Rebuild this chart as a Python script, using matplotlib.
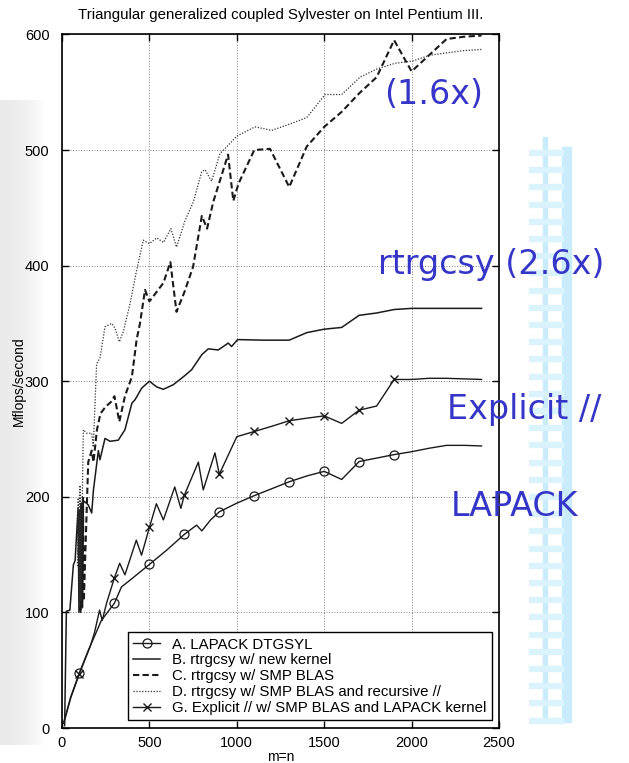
import numpy as np
import matplotlib
matplotlib.use("Agg")
import matplotlib.pyplot as plt
from matplotlib.patches import Rectangle

# --- data (m=n vs Mflops/second) ---
a_x = [10, 50, 100, 150, 185, 225, 300, 340, 390, 500, 600, 700, 770, 800, 850, 900,
       1000, 1100, 1200, 1300, 1400, 1500, 1600, 1700, 1800, 1900, 2000, 2100, 2200, 2300, 2400]
a_y = [5, 27, 48, 67, 79, 93, 108, 122, 128, 141.5, 154, 167.5, 175.5, 170.5, 180, 187,
       194.5, 201, 207, 213, 218, 222, 215, 230.5, 233.5, 236.5, 239, 242, 244.5, 244.5, 244]

b_x = [15, 25, 45, 65, 75, 92, 97, 102, 107, 112, 117, 122, 128, 150, 170, 180, 208, 217,
       246, 275, 322, 360, 400, 418, 456, 500, 542, 580, 637, 704, 742, 800, 837, 894, 951,
       970, 1005, 1150, 1300, 1400, 1500, 1600, 1700, 1800, 1900, 2000, 2100, 2200, 2300, 2400]
b_y = [2, 101, 102, 141, 145, 190, 100, 188, 100, 192, 104, 195, 196, 193, 186, 206, 240, 232,
       250.5, 248, 249, 258, 281, 284, 294, 300, 295, 293, 297, 305, 310, 323, 328, 327, 333,
       330, 336, 335.5, 335.5, 342, 345, 346.5, 357, 359, 362, 363, 363, 363, 363, 363]

c_x = [95, 100, 105, 110, 115, 120, 125, 150, 170, 180, 200, 220, 250, 280, 300, 328, 360,
       400, 427, 446, 475, 500, 540, 580, 620, 655, 700, 750, 800, 830, 865, 950, 980, 1010,
       1100, 1190, 1300, 1400, 1500, 1600, 1700, 1800, 1900, 2000, 2100, 2200, 2300, 2400]
c_y = [150, 190, 102, 195, 105, 200, 110, 230, 240, 230, 258, 272, 278, 282, 287, 265, 287,
       304, 336, 350, 379, 369, 377, 385, 403, 360, 377, 399, 443, 432, 455, 496, 456, 471,
       500, 501, 468, 503, 520, 533, 549, 563, 595, 568, 582, 596, 598, 599]

d_x = [88, 93, 98, 103, 108, 122, 141, 170, 179, 198, 217, 246, 284, 303, 328, 351, 389, 427,
       465, 500, 542, 580, 623, 655, 704, 751, 799, 818, 856, 904, 951, 1000, 1104, 1200, 1295,
       1400, 1505, 1600, 1705, 1800, 1905, 2005, 2105, 2200, 2300, 2400]
d_y = [140, 199, 105, 210, 110, 258, 255, 255, 243, 315, 320, 347, 350, 346, 334, 343, 367, 396,
       422, 419, 424, 420, 432, 416, 439, 455, 481, 483, 473, 497, 504, 512, 520, 517, 522,
       528, 548, 548, 563, 570, 575, 577, 582, 584, 586, 587]

g_x = [10, 50, 100, 160, 185, 215, 230, 255, 300, 330, 360, 400, 425, 455, 500, 540, 580, 645,
       680, 700, 780, 808, 875, 900, 960, 1000, 1100, 1200, 1300, 1400, 1500, 1600, 1700, 1800,
       1900, 2000, 2100, 2200, 2300, 2400]
g_y = [4, 26, 47, 70, 82, 102, 93, 108, 130, 142.5, 132.5, 151, 162.5, 149.5, 173.5, 194, 180,
       208.5, 190, 201.5, 230, 206, 238, 219.5, 239, 252, 256.5, 261, 265.8, 268, 270, 263.5,
       275, 278.5, 301.5, 301.5, 302.5, 302.5, 302, 301.5]

marker_at = [100, 300, 500, 700, 900, 1100, 1300, 1500, 1700, 1900]

labels = ["A. LAPACK DTGSYL",
          "B. rtrgcsy w/ new kernel",
          "C. rtrgcsy w/ SMP BLAS",
          "D. rtrgcsy w/ SMP BLAS and recursive //",
          "G. Explicit // w/ SMP BLAS and LAPACK kernel"]

notes = ["(1.6x)", "rtrgcsy (2.6x)", "Explicit //", "LAPACK"]

W, H = 629, 763
plt.rcParams["font.family"] = ["Liberation Sans", "DejaVu Sans"]

fig = plt.figure(figsize=(W / 100, H / 100), dpi=100)


def px(x, y):
    return x / W, 1 - y / H


# slide background: soft grey shadow on the left edge
bg = np.ones((H, W, 3))
shade = 0.92 + 0.08 * (np.arange(45) / 45.0) ** 2
bg[100:745, :45, :] = shade[None, :, None]
ax_bg = fig.add_axes([0, 0, 1, 1], zorder=0)
ax_bg.imshow(bg, aspect="auto", interpolation="bilinear")
ax_bg.axis("off")

# light blue ladder on the right
fig.patches.append(Rectangle(px(543, 722), 4 / W, 585 / H, transform=fig.transFigure,
                             color="#c8ecfb", zorder=1))
fig.patches.append(Rectangle(px(562, 722), 9 / W, 575 / H, transform=fig.transFigure,
                             color="#c8ecfb", zorder=1))
for yy in np.arange(150, 720, 17.2):
    fig.patches.append(Rectangle(px(529, yy + 5), 34 / W, 5 / H, transform=fig.transFigure,
                                 color="#dbf3fd", zorder=1))

ax = fig.add_axes([62 / W, 35 / H, 437 / W, 693.6 / H])
ax.set_zorder(2)
ax.set_facecolor("white")

ink = "#1a1a1a"


def marks(xs):
    return [i for i, v in enumerate(xs) if v in marker_at]


ax.plot(a_x, a_y, color=ink, lw=1.0, marker="o", ms=6.5, mfc="none", mew=0.9,
        markevery=marks(a_x), label=labels[0])
ax.plot(b_x, b_y, color=ink, lw=1.1, label=labels[1])
ax.plot(c_x, c_y, color=ink, lw=1.5, dashes=(3, 1.6), label=labels[2])
ax.plot(d_x, d_y, color="#333333", lw=0.9, dashes=(1, 1.3), label=labels[3])
ax.plot(g_x, g_y, color=ink, lw=1.0, marker="x", ms=6, mew=1.0,
        markevery=marks(g_x), label=labels[4])

ax.set_xlim(0, 2500)
ax.set_ylim(0, 600)
ax.set_xticks(range(0, 2501, 500))
ax.set_yticks(range(0, 601, 100))
ax.grid(True, color="#555555", lw=0.6, dashes=(1, 2.2))
ax.tick_params(direction="in", top=True, right=True, labelsize=10.5, length=5, width=1)
ax.tick_params(axis="x", pad=5.5)
ax.tick_params(axis="y", pad=9)
for s in ax.spines.values():
    s.set_linewidth(1.2)

ax.set_title("Triangular generalized coupled Sylvester on Intel Pentium III.",
             fontsize=10.8, pad=11)
ax.set_xlabel("m=n", fontsize=10, labelpad=0)
ax.set_ylabel("Mflops/second", fontsize=10, labelpad=-1)

leg = ax.legend(loc="lower right", bbox_to_anchor=(0.984, 0.0115), fontsize=10.8,
                frameon=True, fancybox=False, edgecolor="black", framealpha=1,
                handlelength=1.8, labelspacing=0.12, borderpad=0.35, handletextpad=0.8,
                borderaxespad=0)
leg.get_frame().set_linewidth(1.0)

blue = "#3535c8"
note_pos = [(434, 95), (491, 264), (524, 409), (515, 506)]
for t, (x, y) in zip(notes, note_pos):
    fig.text(*px(x, y), t, color=blue, fontsize=24, family="DejaVu Sans",
             ha="center", va="center", zorder=5)

fig.savefig("out.png", dpi=100)
